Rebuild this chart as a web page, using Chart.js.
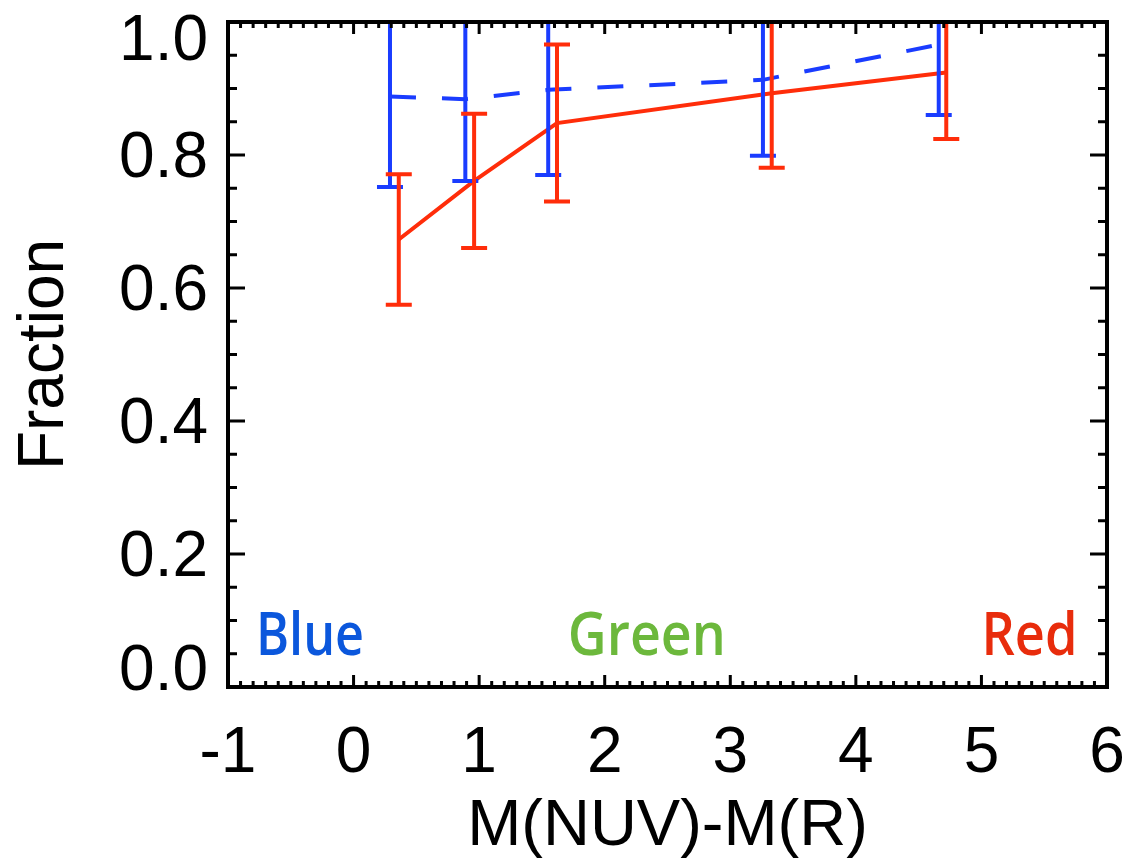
<!DOCTYPE html>
<html>
<head>
  <meta charset="UTF-8">
  <title>Fraction vs M(NUV)-M(R)</title>
  <script src="https://cdn.jsdelivr.net/npm/chart.js"></script>
  <style>
    body, html {
      margin: 0;
      padding: 0;
      background: #fff;
    }
    #chart-container {
      width: 1129px;
      height: 858px;
      position: relative;
    }
  </style>
</head>
<body>
  <div id="chart-container">
    <canvas id="fracChart"></canvas>
  </div>

  <script>
    // values
    const blueX = [0.29, 0.89, 1.55, 3.26, 4.66];
    const blueY = [0.888, 0.884, 0.898, 0.913, 0.966];
    const blueErr = [0.136, 0.123, 0.128, 0.114, 0.106];

    const redX = [0.36, 0.96, 1.62, 3.33, 4.72];
    const redY = [0.673, 0.761, 0.848, 0.893, 0.924];
    const redErr = [0.098, 0.101, 0.118, 0.112, 0.100];

    const xTicks = [-1, 0, 1, 2, 3, 4, 5, 6];
    const yTicks = [0, 0.2, 0.4, 0.6, 0.8, 1.0];
    const yTickLabels = ['0.0', '0.2', '0.4', '0.6', '0.8', '1.0'];

    const BLUE = '#1a3cff';
    const RED = '#ff2d0a';
    const tickFont = '64px "Liberation Sans", Arial, sans-serif';

    const toPoints = (xs, ys) => xs.map((x, i) => ({ x: x, y: ys[i] }));

    // error bars + IDL style box, ticks and labels
    const idlAxes = {
      id: 'idlAxes',
      afterDatasetsDraw(chart) {
        const { ctx, chartArea, scales: { x, y } } = chart;
        ctx.save();
        ctx.beginPath();
        ctx.rect(chartArea.left, chartArea.top, chartArea.width, chartArea.height);
        ctx.clip();
        const bars = [[blueX, blueY, blueErr, BLUE], [redX, redY, redErr, RED]];
        bars.forEach(([xs, ys, es, col]) => {
          ctx.strokeStyle = col;
          ctx.lineWidth = 4;
          xs.forEach((xv, i) => {
            const px = x.getPixelForValue(xv);
            const top = y.getPixelForValue(ys[i] + es[i]);
            const bot = y.getPixelForValue(ys[i] - es[i]);
            ctx.beginPath();
            ctx.moveTo(px, top);
            ctx.lineTo(px, bot);
            ctx.moveTo(px - 13, top);
            ctx.lineTo(px + 13, top);
            ctx.moveTo(px - 13, bot);
            ctx.lineTo(px + 13, bot);
            ctx.stroke();
          });
        });
        ctx.restore();
      },
      afterDraw(chart) {
        const { ctx, chartArea: a, scales: { x, y } } = chart;
        ctx.save();
        ctx.strokeStyle = '#000';
        ctx.fillStyle = '#000';

        // ticks
        ctx.lineWidth = 3;
        ctx.beginPath();
        for (let v = -1; v <= 6.001; v += 0.1) {
          const px = x.getPixelForValue(v);
          const major = Math.abs(v - Math.round(v)) < 1e-6;
          const len = major ? 12 : 6;
          ctx.moveTo(px, a.bottom); ctx.lineTo(px, a.bottom - len);
          ctx.moveTo(px, a.top); ctx.lineTo(px, a.top + len);
        }
        for (let v = 0; v <= 1.0001; v += 0.05) {
          const py = y.getPixelForValue(v);
          const major = Math.abs(v * 5 - Math.round(v * 5)) < 1e-6;
          const len = major ? 17 : 9;
          ctx.moveTo(a.left, py); ctx.lineTo(a.left + len, py);
          ctx.moveTo(a.right, py); ctx.lineTo(a.right - len, py);
        }
        ctx.stroke();

        // box
        ctx.lineWidth = 4;
        ctx.strokeRect(a.left, a.top, a.right - a.left, a.bottom - a.top);

        // tick labels
        ctx.font = tickFont;
        ctx.textAlign = 'center';
        ctx.textBaseline = 'alphabetic';
        xTicks.forEach(v => ctx.fillText(String(v), x.getPixelForValue(v), a.bottom + 85));
        ctx.textAlign = 'right';
        yTicks.forEach((v, i) => {
          let off = 22;
          if (i === 0) off = 3;
          if (i === yTicks.length - 1) off = 38;
          ctx.fillText(yTickLabels[i], a.left - 20, y.getPixelForValue(v) + off);
        });

        // axis titles
        ctx.textAlign = 'center';
        ctx.font = '65px "Liberation Sans", Arial, sans-serif';
        ctx.fillText('M(NUV)-M(R)', (a.left + a.right) / 2, a.bottom + 158);
        ctx.save();
        ctx.translate(63, (a.top + a.bottom) / 2);
        ctx.rotate(-Math.PI / 2);
        ctx.font = tickFont;
        ctx.fillText('Fraction', 0, 0);
        ctx.restore();

        // region labels
        ctx.font = '600 60px "Open Sans", "Noto Sans", sans-serif';
        ctx.textAlign = 'left';
        const regions = [
          ['Blue', -0.777, '#0b57dc', 108],
          ['Green', 1.706, '#6cb83c', 158],
          ['Red', 5.0, '#e82c0c', 96]
        ];
        regions.forEach(([t, xv, col, w]) => {
          ctx.fillStyle = col;
          ctx.fillText(t, x.getPixelForValue(xv), y.getPixelForValue(0.048), w);
        });
        ctx.restore();
      }
    };

    const ctx = document.getElementById('fracChart').getContext('2d');
    const chart = new Chart(ctx, {
      type: 'scatter',
      data: {
        datasets: [
          {
            label: 'Blue',
            data: toPoints(blueX, blueY),
            showLine: true,
            borderColor: BLUE,
            borderWidth: 4,
            borderDash: [26, 26],
            pointRadius: 0,
            fill: false
          },
          {
            label: 'Red',
            data: toPoints(redX, redY),
            showLine: true,
            borderColor: RED,
            borderWidth: 4,
            pointRadius: 0,
            fill: false
          }
        ]
      },
      options: {
        responsive: true,
        maintainAspectRatio: false,
        animation: false,
        layout: { padding: { left: 228, top: 22, right: 22, bottom: 171 } },
        plugins: {
          legend: { display: false },
          tooltip: { enabled: false }
        },
        scales: {
          x: { type: 'linear', min: -1, max: 6, display: false },
          y: { type: 'linear', min: 0, max: 1, display: false }
        }
      },
      plugins: [idlAxes]
    });
  </script>
</body>
</html>
